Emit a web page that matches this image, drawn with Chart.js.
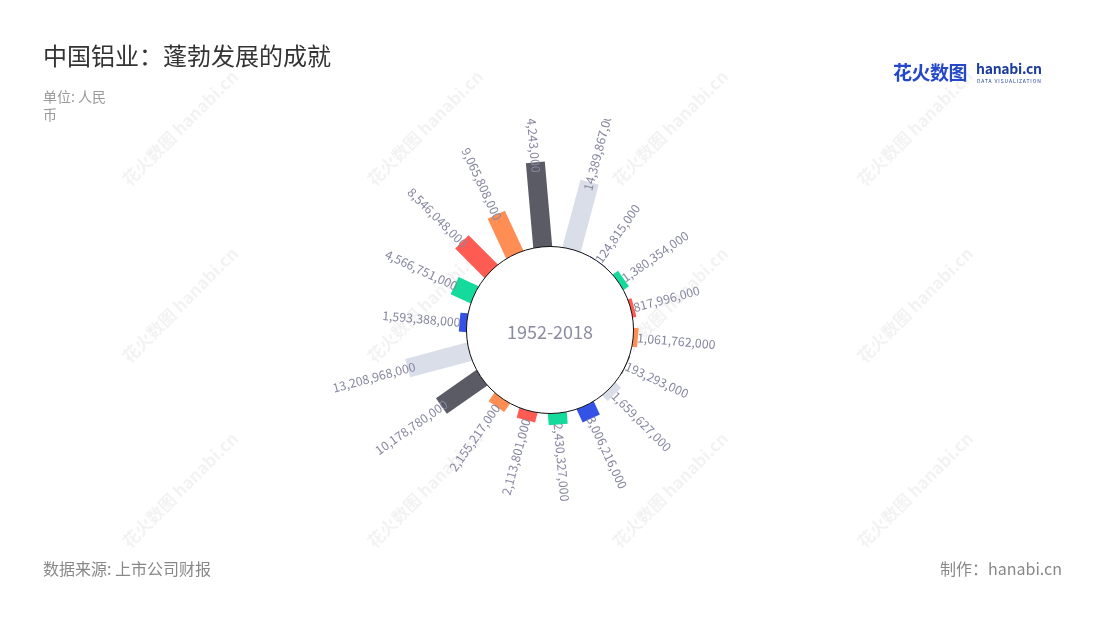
<!DOCTYPE html>
<html><head><meta charset="utf-8">
<script src="https://cdn.jsdelivr.net/npm/chart.js@4.4.1/dist/chart.umd.min.js"></script>
<style>
html,body{margin:0;padding:0;background:#fff;}
#wrap{position:relative;width:1100px;height:620px;overflow:hidden;font-family:"Noto Sans CJK SC","Noto Sans",sans-serif;}
canvas{position:absolute;left:0;top:0;}
.t{position:absolute;white-space:nowrap;}
#title{left:43px;top:37px;font-size:24px;color:#333;}
#unit{left:43px;top:87px;font-size:14px;color:#999;line-height:18px;}
#src{left:43px;top:556px;font-size:16px;color:#888;}
#made{right:38px;top:556px;font-size:16px;color:#888;}
#logo{left:893px;top:58px;width:150px;height:30px;}
#logo .cn{position:absolute;left:0;top:0;font-size:19px;font-weight:bold;color:#2448c8;letter-spacing:-0.5px;}
#logo .en{position:absolute;left:83px;top:0px;font-size:14px;font-weight:bold;color:#1d3d9e;letter-spacing:-0.3px;}
#logo .sub{position:absolute;left:84px;top:19px;font-size:5px;color:#1d3d9e;letter-spacing:0.9px;}
</style>
</head><body>
<div id="wrap">
<canvas id="c" width="1100" height="620"></canvas>
<div class="t" id="title">中国铝业：蓬勃发展的成就</div>
<div class="t" id="unit">单位: 人民<br>币</div>
<div class="t" id="src">数据来源: 上市公司财报</div>
<div class="t" id="made">制作：hanabi.cn</div>
<div class="t" id="logo"><span class="cn">花火数图</span><span class="en">hanabi.cn</span><span class="sub">DATA VISUALIZATION</span></div>
</div>
<script>
// ---- data (clockwise from top) ----
const categories = ['1','2','3','4','5','6','7','8','9','10','11','12','13','14','15','16','17','18'];
const values = [17504243000, 14389867000, 124815000, 1380354000, 817996000, 1061762000,
                193293000, 1659627000, 3006216000, 2430327000, 2113801000, 2155217000,
                10178780000, 13208968000, 1593388000, 4566751000, 8546048000, 9065808000];
const barColors = ['#5a5b65', '#d9dee8', '#3452e6', '#14db9c', '#fe5b52', '#ff8e55'];
const centerLabel = '1952-2018';

const BAR_W = 19;
const fmt = v => v.toLocaleString('en-US');

const watermark = {
  id: 'watermark',
  beforeDraw(chart) {
    const ctx = chart.ctx;
    ctx.save();
    ctx.fillStyle = 'rgba(0,0,0,0.05)';
    const xs = [180, 425, 670, 915], ys = [128, 305, 490];
    ys.forEach(y => xs.forEach(x => {
      ctx.save(); ctx.translate(x, y); ctx.rotate(-Math.PI / 4);
      ctx.font = 'bold 17px "Noto Sans CJK SC"'; ctx.textAlign = 'center'; ctx.textBaseline = 'middle';
      ctx.fillText('花火数图 hanabi.cn', 0, 0);
      ctx.restore();
    }));
    ctx.restore();
  }
};

const radialBars = {
  id: 'radialBars',
  afterDatasetsDraw(chart) {
    const meta = chart.getDatasetMeta(0);
    const scale = chart.scales.r;
    const ctx = chart.ctx;
    const r0 = scale.getDistanceFromCenterForValue(0);
    const els = meta.data.map(el => el.getProps(['x', 'y', 'startAngle', 'endAngle', 'outerRadius'], true));
    // bars
    els.forEach((p, i) => {
      const a = (p.startAngle + p.endAngle) / 2;
      ctx.save(); ctx.translate(p.x, p.y); ctx.rotate(a);
      ctx.fillStyle = barColors[i % barColors.length];
      ctx.fillRect(r0 - 3, -BAR_W / 2, p.outerRadius - r0 + 3, BAR_W);
      ctx.restore();
    });
    // labels
    ctx.save();
    ctx.beginPath(); ctx.rect(0, 119, chart.width, chart.height - 119); ctx.clip();
    ctx.font = '12.3px "Noto Sans CJK SC"';
    ctx.fillStyle = '#8686a0';
    ctx.textBaseline = 'middle';
    els.forEach((p, i) => {
      const a = (p.startAngle + p.endAngle) / 2;
      const rl = r0 + 0.88 * (p.outerRadius - r0);
      const txt = fmt(values[i]);
      ctx.save(); ctx.translate(p.x, p.y);
      if (Math.cos(a) >= 0) {
        ctx.rotate(a); ctx.textAlign = 'left'; ctx.fillText(txt, rl, 0);
      } else {
        ctx.rotate(a + Math.PI); ctx.textAlign = 'right'; ctx.fillText(txt, -rl, 0);
      }
      ctx.restore();
    });
    ctx.restore();
    // inner circle
    const cx = els[0].x, cy = els[0].y;
    ctx.save();
    ctx.beginPath(); ctx.arc(cx, cy, r0 + 0.5, 0, Math.PI * 2);
    ctx.fillStyle = '#fff'; ctx.fill();
    ctx.lineWidth = 1; ctx.strokeStyle = '#111'; ctx.stroke();
    ctx.font = '18px "Noto Sans CJK SC"'; ctx.fillStyle = '#8c8ca0';
    ctx.textAlign = 'center'; ctx.textBaseline = 'middle';
    ctx.fillText(centerLabel, cx, cy + 2);
    ctx.restore();
  }
};

new Chart(document.getElementById('c'), {
  type: 'polarArea',
  data: {
    labels: categories,
    datasets: [{ data: values, backgroundColor: 'rgba(0,0,0,0)', borderWidth: 0 }]
  },
  options: {
    responsive: false,
    animation: false,
    layout: { padding: { left: 350, right: 350, top: 130, bottom: 90 } },
    scales: {
      r: {
        display: false,
        min: -17040000000,
        max: 24020000000,
        startAngle: -15,
        ticks: { display: false },
        grid: { display: false },
        angleLines: { display: false },
        pointLabels: { display: false }
      }
    },
    plugins: { legend: { display: false }, tooltip: { enabled: false } }
  },
  plugins: [watermark, radialBars]
});
</script>
</body></html>
